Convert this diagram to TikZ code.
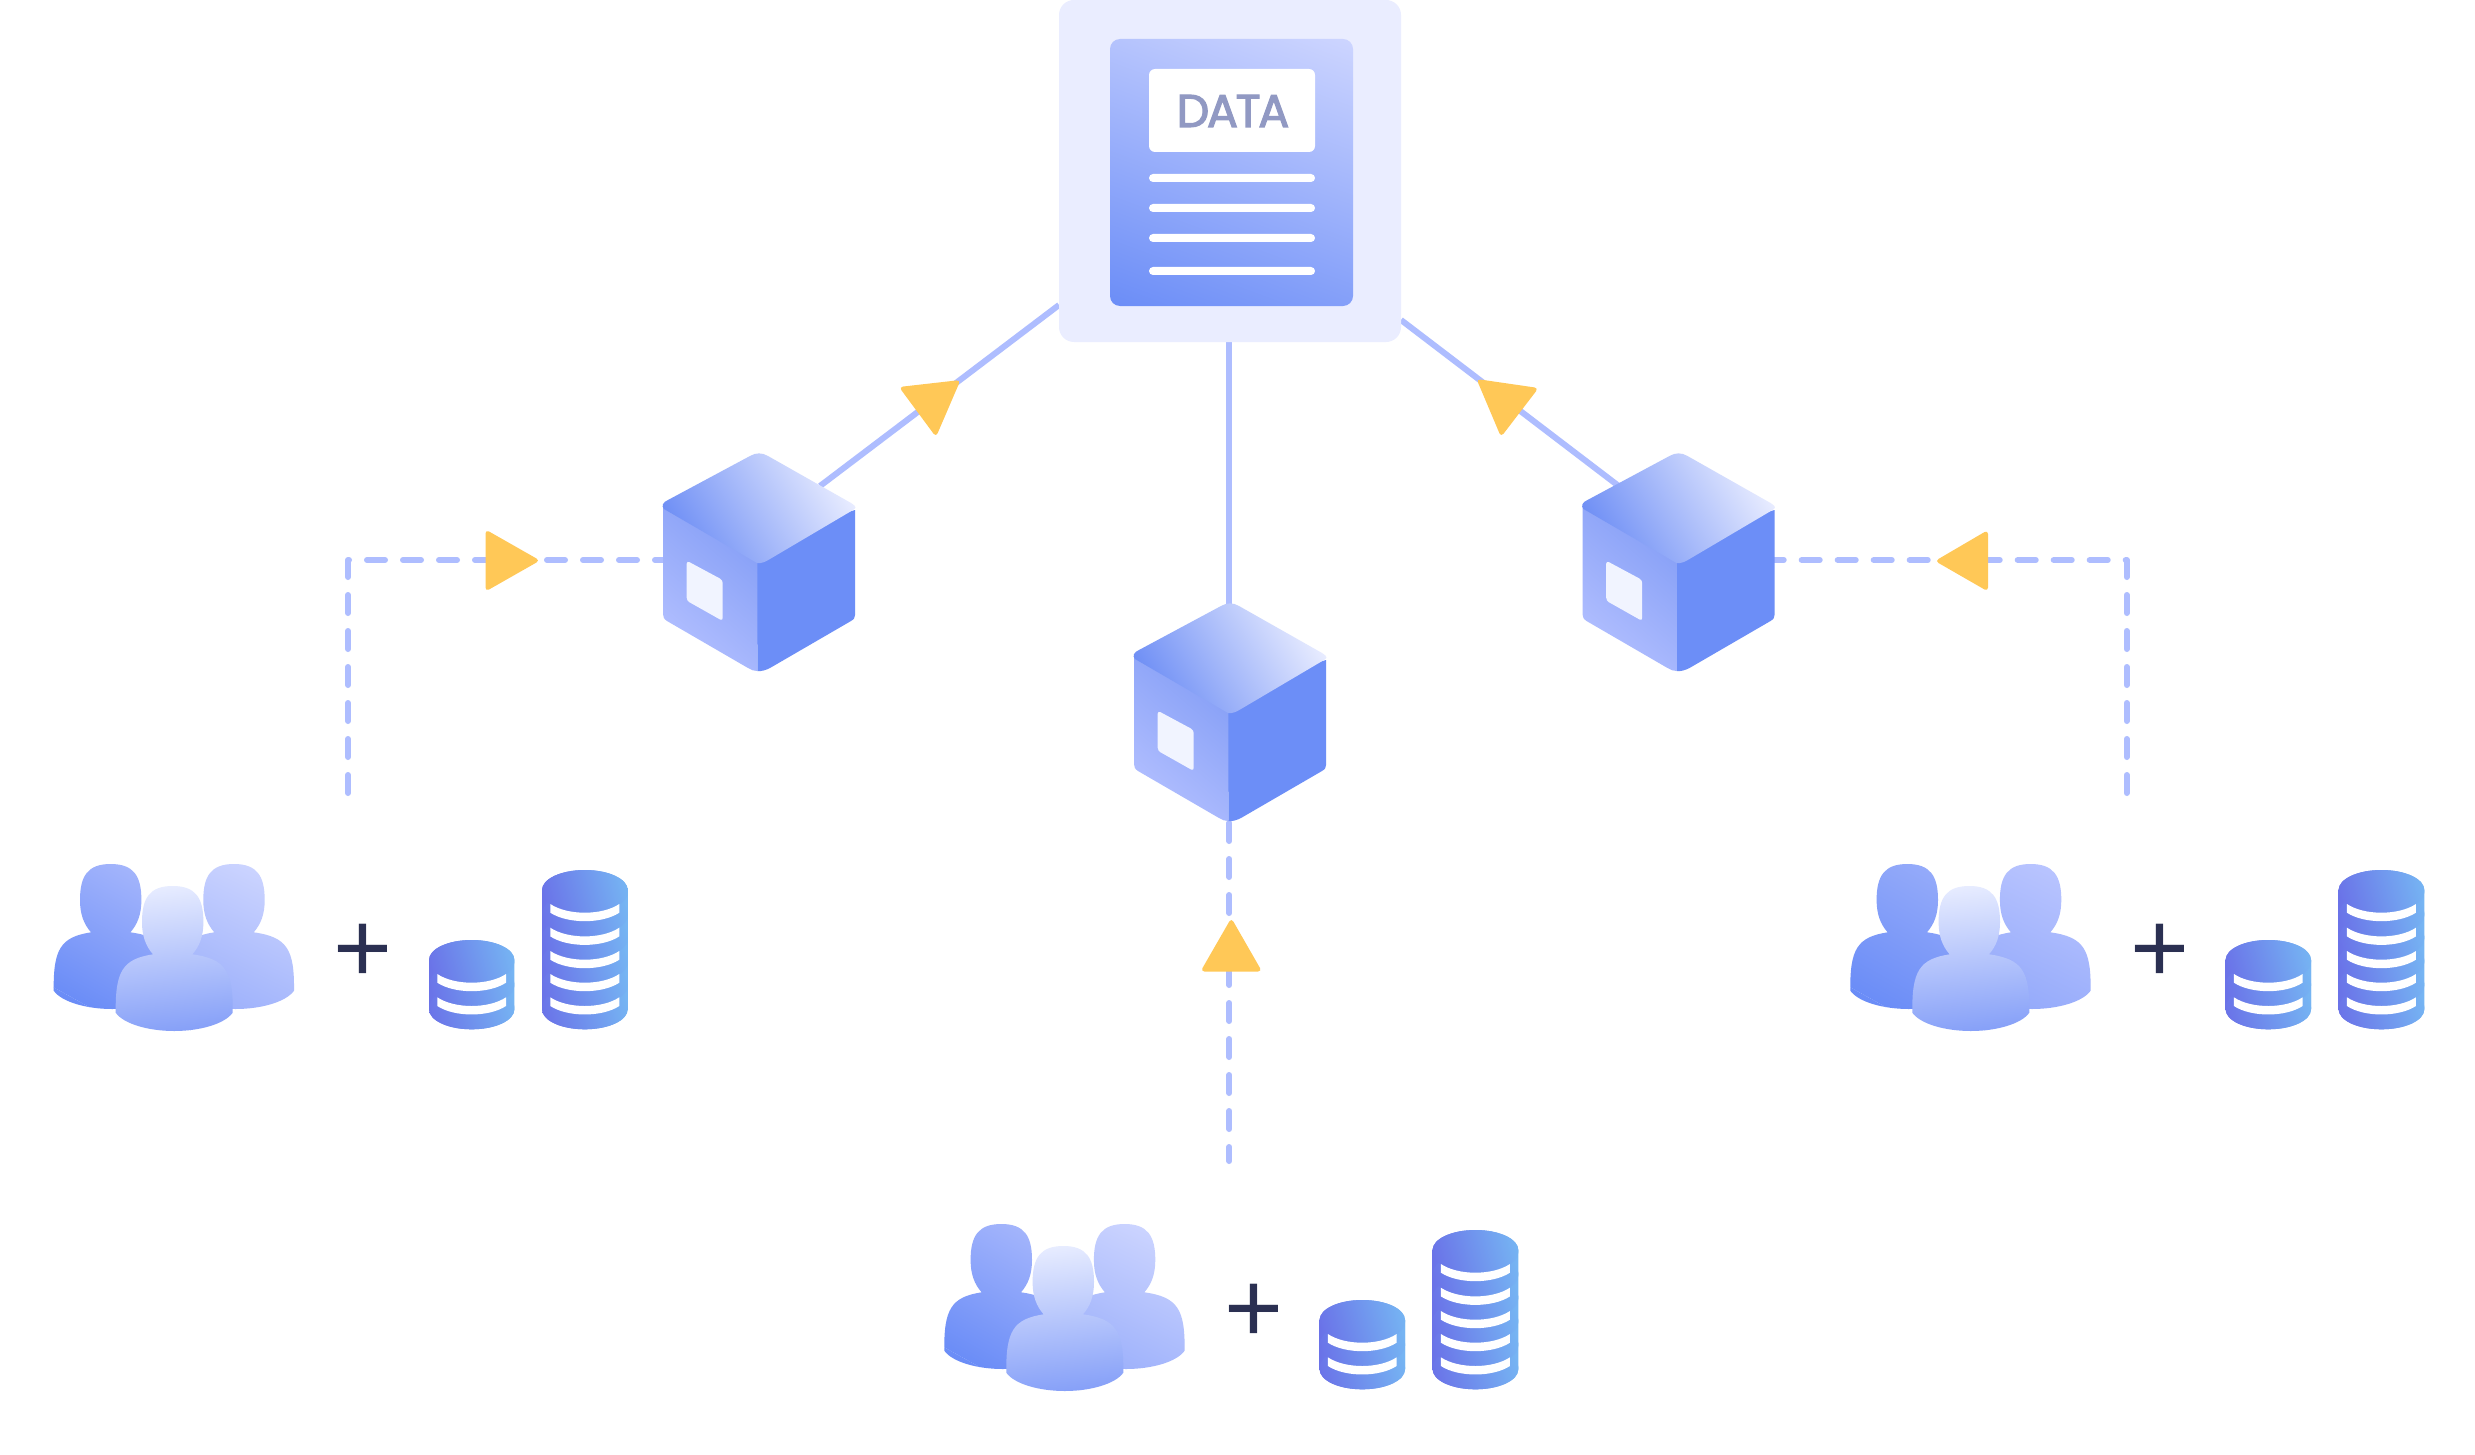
\documentclass[tikz,border=0pt]{standalone}
\usepackage{fontspec}
\newfontfamily\popf[FakeBold=2.5,LetterSpace=-5]{Poppins}
\newfontfamily\plusf{Liberation Sans}
\definecolor{panelbg}{HTML}{EAEDFF}
\definecolor{linec}{HTML}{AEBDFF}
\definecolor{arrowc}{HTML}{FFC857}
\definecolor{datatext}{HTML}{9199C3}
\definecolor{plusc}{HTML}{2B3052}
\definecolor{docA}{HTML}{6B8DF7}
\definecolor{docB}{HTML}{CDD5FF}
\definecolor{cubeR}{HTML}{6C8EF7}
\definecolor{cubeTA}{HTML}{6F8FF5}
\definecolor{cubeTB}{HTML}{E8ECFF}
\definecolor{cubeLA}{HTML}{8AA2F7}
\definecolor{cubeLB}{HTML}{B2BFFF}
\definecolor{winc}{HTML}{F1F4FF}
\definecolor{stackA}{HTML}{6A72E8}
\definecolor{stackB}{HTML}{76B6F3}
\definecolor{frontA}{HTML}{86A0F8}
\definecolor{frontB}{HTML}{E7ECFF}
\definecolor{leftA}{HTML}{6B8DF7}
\definecolor{leftB}{HTML}{A8B8FC}
\definecolor{leftC}{HTML}{98ADFA}
\definecolor{rightA}{HTML}{9CB0FB}
\definecolor{rightB}{HTML}{CDD5FF}
\definecolor{rightC}{HTML}{93A9FA}
\definecolor{rightD}{HTML}{BAC5FF}
\tikzset{
  wire/.style={draw=linec,line width=6pt},
  dashwire/.style={draw=linec,line width=6pt,line cap=round,line join=round,dash pattern=on 18pt off 18pt},
  tri/.style={fill=arrowc,rounded corners=4pt},
  whitebar/.style={fill=white,rounded corners=4pt},
  bandc/.style={fill=white},
}
% gradient fill of a path: #1 path, from (#2,#3) in colour #6 to (#4,#5) in colour #7
\newcommand\gradfill[7]{%
  \begin{scope}
    \clip #1;
    \coordinate (gM) at ({(#2+#4)/2},{(#3+#5)/2});
    \pgfmathsetmacro\gL{veclen(#4-(#2),#5-(#3))/2}
    \pgfmathsetmacro\gAng{atan2(-(#5-(#3)),#4-(#2))}
    \begin{scope}[reset cm,transform canvas={shift={(gM)},rotate=\gAng}]
      \fill[#6] (-3000,-3000) rectangle (-\gL,3000);
      \fill[#7] (\gL,-3000) rectangle (3000,3000);
      \shade[left color=#6,right color=#7] (-\gL,-3000) rectangle (\gL,3000);
    \end{scope}
  \end{scope}}
\newcommand\personshape[8]{% #1,#2 head top; gradient vector relative and colours
  \begin{scope}[shift={(#1,#2)}]
    \gradfill{(0,0) .. controls (-23,0) and (-30.7,12) .. (-30.7,36) .. controls (-30.7,50) and (-27,60) .. (-19.7,68.3) .. controls (-50,73) and (-57.5,85) .. (-57,126.7) .. controls (-49,138) and (-24,145) .. (1.5,145) .. controls (27,145) and (52,138) .. (60,126.7) .. controls (60.5,85) and (53,73) .. (19.7,68.3) .. controls (27,60) and (30.7,50) .. (30.7,36) .. controls (30.7,12) and (23,0) .. (0,0) -- cycle}{#3}{#4}{#5}{#6}{#7}{#8}
  \end{scope}}
\newcommand\cubeshape[2]{%
  \begin{scope}[shift={(#1,#2)}]
    \fill[cubeR] (757,540) -- (757.3,671) .. controls (762,671.5) and (766,670) .. (770,668) -- (851,621) .. controls (854,619) and (855,618) .. (855,615) -- (855,510) -- cycle;
    \gradfill{(757.3,545) -- (680,502) -- (663,506) -- (663,614) .. controls (663,617) and (664,619) .. (667,621) -- (748,668) .. controls (751,670) and (754,671) .. (757.3,671) -- cycle}{757}{560}{680}{650}{cubeLA}{cubeLB}
    \fill[winc,rounded corners=3pt] (686.7,560.7) -- (722.7,580) -- (722.7,621) -- (686.7,600.7) -- cycle;
    \gradfill{(750,456) .. controls (756,452.5) and (762,452.5) .. (768,456) -- (851,503) .. controls (857,507) and (856,508) .. (853,510) -- (770,559) .. controls (765,562) and (762,563.5) .. (757,563) -- (664,509) .. controls (661,506) and (663,502) .. (668,500) -- cycle}{688}{550}{830}{465}{cubeTA}{cubeTB}
  \end{scope}}
\newcommand\bandshape[3]{%
  \fill[bandc] (#1,#3) .. controls ({#1+(#2-#1)/4},{#3+11.6}) and ({#2-(#2-#1)/4},{#3+11.6}) .. (#2,#3) -- (#2,{#3+8.7}) .. controls ({#2-(#2-#1)/4},{#3+20}) and ({#1+(#2-#1)/4},{#3+20}) .. (#1,{#3+8.7}) -- cycle;}
% one disc of a stack: #1 left x, #2 right x, #3 top y
\newcommand\discshape[3]{%
  \gradfill{(#1,{#3+20}) .. controls (#1,{#3+9}) and ({(#1+#2)/2-24},#3) .. ({(#1+#2)/2},#3) .. controls ({(#1+#2)/2+24},#3) and (#2,{#3+9}) .. (#2,{#3+20}) -- (#2,{#3+22.3}) .. controls (#2,{#3+33.3}) and ({(#1+#2)/2+24},{#3+42.3}) .. ({(#1+#2)/2},{#3+42.3}) .. controls ({(#1+#2)/2-24},{#3+42.3}) and (#1,{#3+33.3}) .. (#1,{#3+22.3}) -- cycle}{#1}{#3+30}{#2}{#3+8}{stackA}{stackB}}
% whole silhouette of a stack under its discs: #1 left x, #2 right x, #3 top y, #4 bottom y
\newcommand\stackbase[4]{%
  \gradfill{(#1,{#3+20}) .. controls (#1,{#3+9}) and ({(#1+#2)/2-24},#3) .. ({(#1+#2)/2},#3) .. controls ({(#1+#2)/2+24},#3) and (#2,{#3+9}) .. (#2,{#3+20}) -- (#2,{#4-20}) .. controls (#2,{#4-9}) and ({(#1+#2)/2+24},#4) .. ({(#1+#2)/2},#4) .. controls ({(#1+#2)/2-24},#4) and (#1,{#4-9}) .. (#1,{#4-20}) -- cycle}{#1}{#3+40}{#2}{#3+40}{stackA}{stackB}}
\newcommand\groupshape[6]{% shift x,y ; left colours ; right colours
  \begin{scope}[shift={(#1,#2)},name prefix=#1-]
    \personshape{110.7}{864}{-45}{130}{30}{-5}{#3}{#4}
    \personshape{234}{864}{-30}{140}{35}{5}{#5}{#6}
    \personshape{172.7}{886}{10}{145}{-5}{0}{frontA}{frontB}
    \node[text=plusc,inner sep=0pt,anchor=base,font=\plusf\fontsize{101}{101}\selectfont] (plus) at (363,982.5) {+};
    \stackbase{429}{514.4}{940}{1029.3}
    \discshape{429}{514.4}{987}
    \discshape{429}{514.4}{963.5}
    \discshape{429}{514.4}{940}
    \bandshape{437.3}{506}{974}
    \bandshape{437.3}{506}{997.3}
    \stackbase{542}{627.7}{870}{1029.3}
    \discshape{542}{627.7}{987}
    \discshape{542}{627.7}{963.5}
    \discshape{542}{627.7}{940}
    \discshape{542}{627.7}{916.5}
    \discshape{542}{627.7}{893}
    \discshape{542}{627.7}{870}
    \bandshape{550.3}{619.3}{904}
    \bandshape{550.3}{619.3}{927.7}
    \bandshape{550.3}{619.3}{951}
    \bandshape{550.3}{619.3}{974}
    \bandshape{550.3}{619.3}{997.3}
  \end{scope}}
\begin{document}
\begin{tikzpicture}[x=1pt,y=-1pt]
\fill[white,use as bounding box] (0,0) rectangle (2475,1455);
% connector end points
\coordinate (panelW) at (1059,305);
\coordinate (panelE) at (1401,320);
\coordinate (panelS) at (1229,342);
\coordinate (cubeLtop) at (820,486);
\coordinate (cubeRtop) at (1618.3,485.7);
\coordinate (cubeCtop) at (1229,610);
\coordinate (cubeLw) at (670,560);
\coordinate (cubeRe) at (1770,560);
\coordinate (cubeCb) at (1229.3,815);
\coordinate (srcL) at (348,793);
\coordinate (cornL) at (348,560);
\coordinate (srcR) at (2126.7,793);
\coordinate (cornR) at (2126.7,560);
\coordinate (srcC) at (1229.3,1161);
% connectors
\draw[wire] (panelW) -- (cubeLtop);
\draw[wire] (panelE) -- (cubeRtop);
\draw[wire] (panelS) -- (cubeCtop);
\draw[dashwire] (srcL) -- (cornL) -- (cubeLw);
\draw[dashwire] (srcR) -- (cornR) -- (cubeRe);
\draw[dashwire,dash phase=4pt] (srcC) -- (cubeCb);
% document panel
\fill[panelbg,rounded corners=15pt] (1059,0) rectangle (1401,342);
\gradfill{[rounded corners=10pt] (1110,39) rectangle (1353,306)}{1174}{329}{1289}{16}{docA}{docB}
\fill[white,rounded corners=6pt] (1149,69) rectangle (1315,152);
\node[text=datatext,inner sep=0pt,anchor=base,font=\popf\fontsize{46}{46}\selectfont] (data) at (1233,127) {DATA};
\fill[whitebar] (1149,174) rectangle (1315,182);
\fill[whitebar] (1149,204) rectangle (1315,212);
\fill[whitebar] (1149,234) rectangle (1315,242);
\fill[whitebar] (1149,267) rectangle (1315,275);
% cubes
\cubeshape{0}{0}
\cubeshape{919.5}{0}
\cubeshape{471}{150}
% arrowheads
\fill[tri] (899,387) -- (960.5,380) -- (936,437) -- cycle;
\fill[tri] (1476.5,379) -- (1538.5,388) -- (1501,437) -- cycle;
\fill[tri] (485.5,529.5) -- (540,560.5) -- (485.5,591.5) -- cycle;
\fill[tri] (1935,561) -- (1988,530) -- (1988,591.5) -- cycle;
\fill[tri] (1231.3,918) -- (1200.5,971.5) -- (1262,971.5) -- cycle;
% groups
\groupshape{0}{0}{leftA}{leftB}{rightA}{rightB}
\groupshape{890.6}{360}{leftA}{leftB}{rightA}{rightB}
\groupshape{1796.6}{0}{leftA}{leftC}{rightC}{rightD}
\end{tikzpicture}
\end{document}
